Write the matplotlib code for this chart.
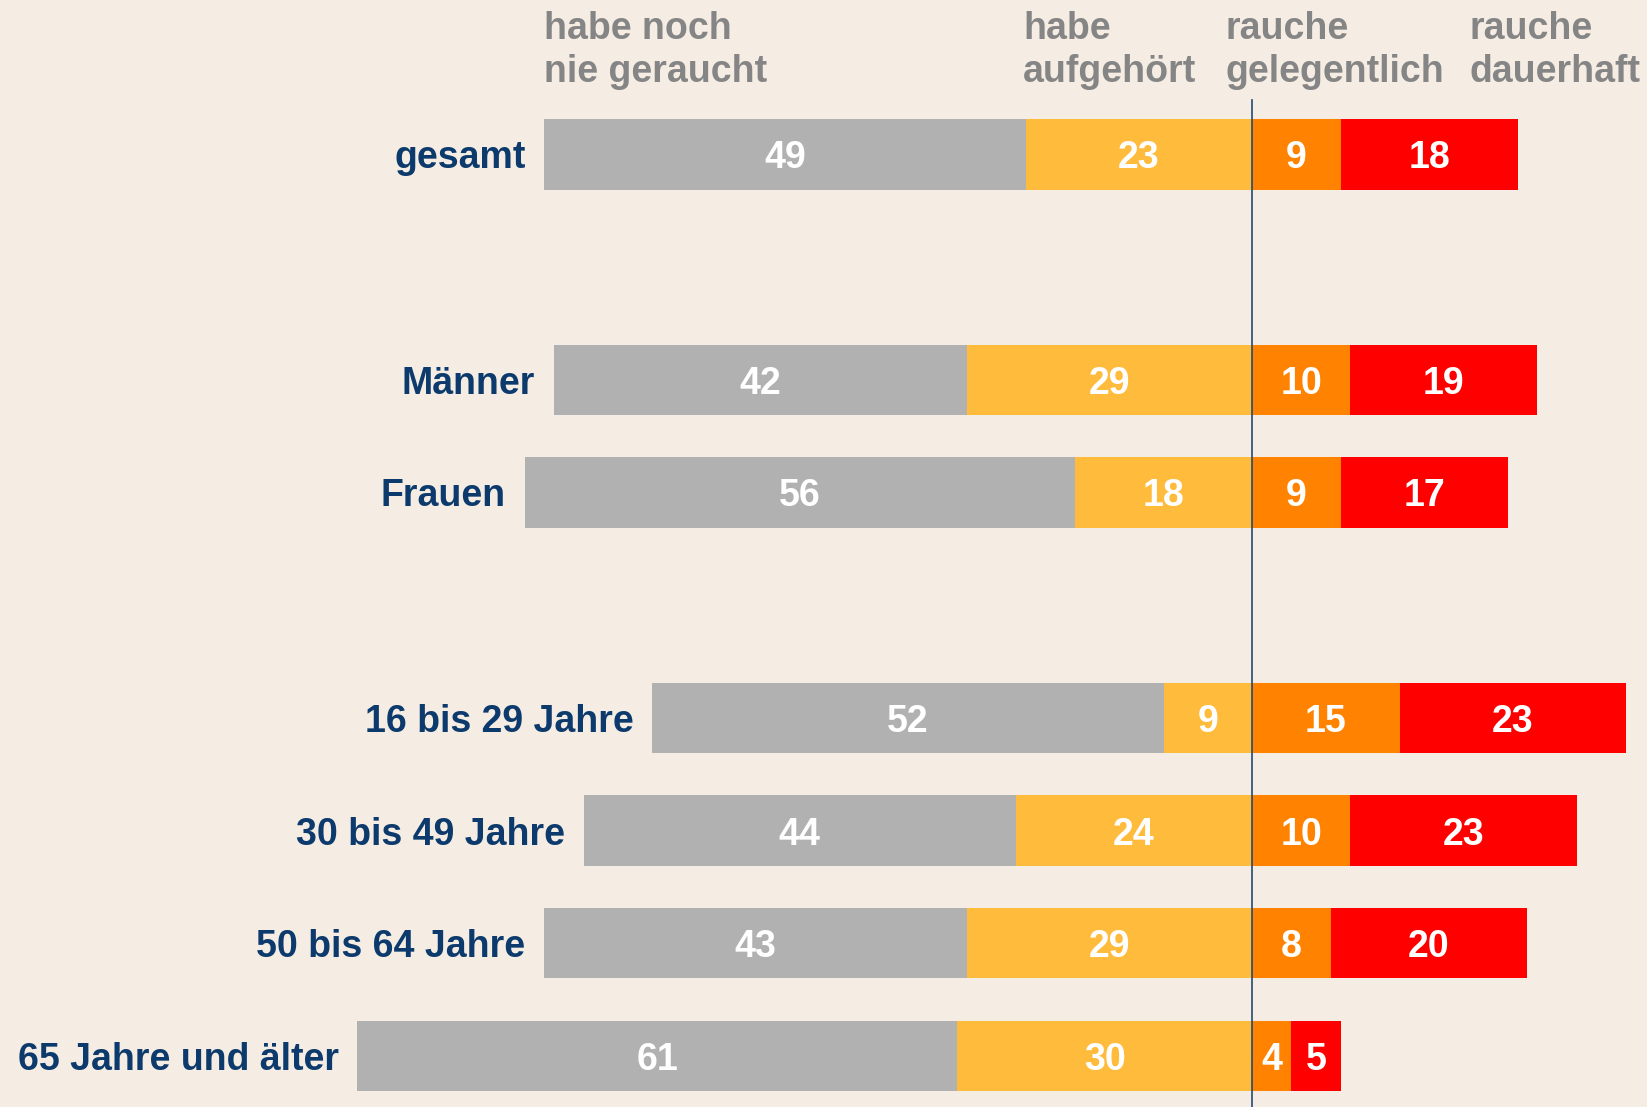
import matplotlib
matplotlib.use("Agg")
import matplotlib.pyplot as plt

categories = ["gesamt", "Männer", "Frauen", "16 bis 29 Jahre", "30 bis 49 Jahre",
              "50 bis 64 Jahre", "65 Jahre und älter"]
rows = [0, 2, 3, 5, 6, 7, 8]
never = [49, 42, 56, 52, 44, 43, 61]
quit_ = [23, 29, 18, 9, 24, 29, 30]
occasional = [9, 10, 9, 15, 10, 8, 4]
permanent = [18, 19, 17, 23, 23, 20, 5]
headers = ["habe noch\nnie geraucht", "habe\naufgehört", "rauche\ngelegentlich", "rauche\ndauerhaft"]
header_x = [-72, -23.3, -2.7, 22.1]

BG = "#f5ede3"
GRAY, YELLOW, ORANGE, RED = "#b1b1b1", "#ffbb3b", "#ff8300", "#ff0000"
BLUE = "#0c3a6c"
HEAD = "#858585"
FONT = ["Liberation Sans", "DejaVu Sans"]

fig = plt.figure(figsize=(16.47, 11.07), dpi=100, facecolor=BG)
ax = fig.add_axes([0, 0, 1, 1])
ax.set_facecolor(BG)
ax.set_xlim(-127.35, 40.17)
ax.set_ylim(8.453, -1.37)
ax.axis("off")

h = 0.625
num_kw = dict(ha="center", va="center_baseline", color="white", fontsize=27,
              fontweight="bold", family=FONT)
for i, y in enumerate(rows):
    left_never = -(never[i] + quit_[i])
    ax.barh(y, never[i], left=left_never, height=h, color=GRAY, lw=0)
    ax.barh(y, quit_[i], left=-quit_[i], height=h, color=YELLOW, lw=0)
    ax.barh(y, occasional[i], left=0, height=h, color=ORANGE, lw=0)
    ax.barh(y, permanent[i], left=occasional[i], height=h, color=RED, lw=0)

    ax.text(left_never + never[i] / 2, y, str(never[i]), **num_kw)
    ax.text(-quit_[i] / 2, y, str(quit_[i]), **num_kw)
    ax.text(occasional[i] / 2, y, str(occasional[i]), **num_kw)
    ax.text(occasional[i] + permanent[i] / 2, y, str(permanent[i]), **num_kw)

    ax.text(left_never - 1.9, y, categories[i], ha="right", va="center_baseline",
            color=BLUE, fontsize=27, fontweight="bold", family=FONT)

# column headers, two lines each
for lab, x in zip(headers, header_x):
    line1, line2 = lab.split("\n")
    ax.text(x, -1.025, line1, ha="left", va="baseline", color=HEAD, fontsize=27,
            fontweight="bold", family=FONT)
    ax.text(x, -0.643, line2, ha="left", va="baseline", color=HEAD, fontsize=27,
            fontweight="bold", family=FONT)

ax.plot([0, 0], [-0.485, 8.453], color="#1f4a78", lw=1.2, zorder=5)

fig.savefig("out.png", dpi=100, facecolor=BG)
